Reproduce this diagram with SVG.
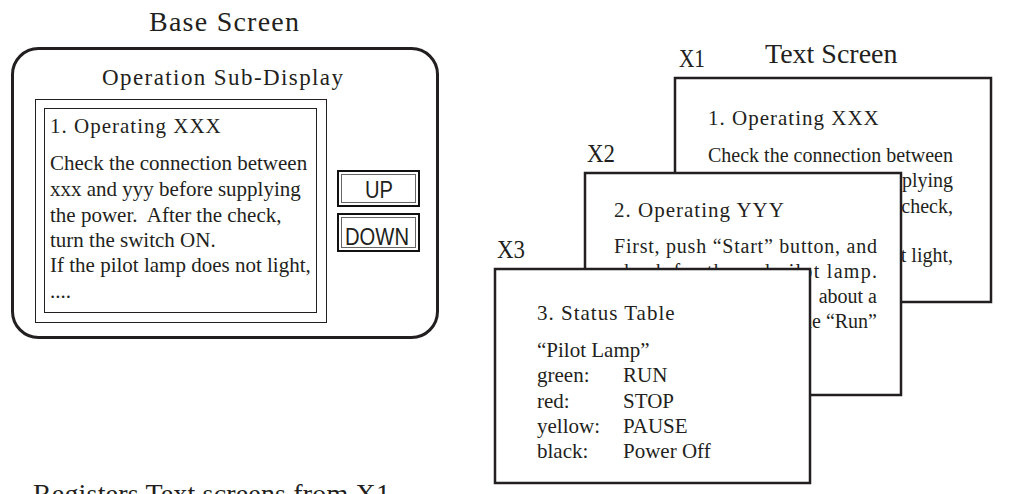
<svg xmlns="http://www.w3.org/2000/svg" width="1016" height="494" viewBox="0 0 1016 494">
<style>
text{font-family:"Liberation Serif","Times New Roman",serif;fill:#231f20}
.title{font-size:28px}
.sub{font-size:23px}
.head{font-size:21px;letter-spacing:1px}
.body{font-size:21px}
.body2{font-size:20px}
.lbl{font-size:25px}
.scr{fill:#fff;stroke:#231f20;stroke-width:2.5}
.thin{fill:none;stroke:#231f20;stroke-width:1}
.btn{font-family:"Liberation Sans",Arial,sans-serif;font-size:24px}
</style>
<rect width="1016" height="494" fill="#fff"/>
<g id="base-screen">
<text class="title" x="149" y="31" textLength="150" lengthAdjust="spacing">Base Screen</text>
<rect x="12.5" y="48.5" width="425" height="289" rx="26" ry="26" fill="#fff" stroke="#231f20" stroke-width="3"/>
<text class="sub" x="102" y="85" textLength="241" lengthAdjust="spacing">Operation Sub-Display</text>
</g>
<g id="sub-display">
<rect class="thin" x="35.5" y="99.5" width="291" height="223"/>
<rect class="thin" x="44.5" y="108.5" width="272" height="204"/>
<text class="head" x="50" y="133">1. Operating XXX</text>
<text class="body" x="50" y="170">Check the connection between</text>
<text class="body" x="50" y="196">xxx and yyy before supplying</text>
<text class="body" x="50" y="222" xml:space="preserve">the power.  After the check,</text>
<text class="body" x="50" y="247">turn the switch ON.</text>
<text class="body" x="50" y="272">If the pilot lamp does not light,</text>
<text class="body" x="50" y="298">....</text>
</g>
<g id="btn-up">
<rect x="338" y="171" width="81" height="35" fill="#fff" stroke="#111" stroke-width="2"/>
<rect x="341.5" y="174.5" width="74" height="28" fill="none" stroke="#666" stroke-width="1"/>
<text class="btn" x="365" y="198" textLength="28" lengthAdjust="spacingAndGlyphs">UP</text>
</g>
<g id="btn-down">
<rect x="338" y="214" width="81" height="37" fill="#fff" stroke="#111" stroke-width="2"/>
<rect x="341.5" y="217.5" width="74" height="30" fill="none" stroke="#666" stroke-width="1"/>
<text class="btn" x="345" y="245" textLength="64" lengthAdjust="spacingAndGlyphs">DOWN</text>
</g>
<g id="text-screen-x1">
<text class="title" x="765" y="63">Text Screen</text>
<text class="lbl" x="679" y="67" textLength="26" lengthAdjust="spacingAndGlyphs">X1</text>
<rect class="scr" x="675" y="78" width="316" height="224"/>
<text class="head" x="708" y="125">1. Operating XXX</text>
<text class="body2" x="708" y="162" textLength="245" lengthAdjust="spacing">Check the connection between</text>
<text class="body2" x="953" y="187" text-anchor="end">supplying</text>
<text class="body2" x="953" y="213" text-anchor="end">check,</text>
<text class="body2" x="953" y="262" text-anchor="end">not light,</text>
</g>
<g id="text-screen-x2">
<text class="lbl" x="587" y="162" textLength="28" lengthAdjust="spacingAndGlyphs">X2</text>
<rect class="scr" x="585" y="173" width="316" height="222"/>
<text class="head" x="614" y="217">2. Operating YYY</text>
<text class="body2" x="614" y="253" textLength="263" lengthAdjust="spacing">First, push “Start” button, and</text>
<text class="body2" x="614" y="278" textLength="263" lengthAdjust="spacing">check for the red pilot lamp.</text>
<text class="body2" x="877" y="303" text-anchor="end">about a</text>
<text class="body2" x="877" y="328" text-anchor="end">the “Run”</text>
</g>
<g id="text-screen-x3">
<text class="lbl" x="497" y="258" textLength="28" lengthAdjust="spacingAndGlyphs">X3</text>
<rect class="scr" x="495" y="269" width="315" height="214"/>
<text class="head" x="537" y="320">3. Status Table</text>
<text class="body" x="537" y="357">“Pilot Lamp”</text>
<text class="body" x="537" y="382">green:</text><text class="body" x="623" y="382">RUN</text>
<text class="body" x="537" y="408">red:</text><text class="body" x="623" y="408">STOP</text>
<text class="body" x="537" y="433">yellow:</text><text class="body" x="623" y="433">PAUSE</text>
<text class="body" x="537" y="458">black:</text><text class="body" x="623" y="458">Power Off</text>
</g>
<g id="caption">
<text class="title" x="33" y="503" textLength="357" lengthAdjust="spacing">Registers Text screens from X1</text>
</g>
</svg>
